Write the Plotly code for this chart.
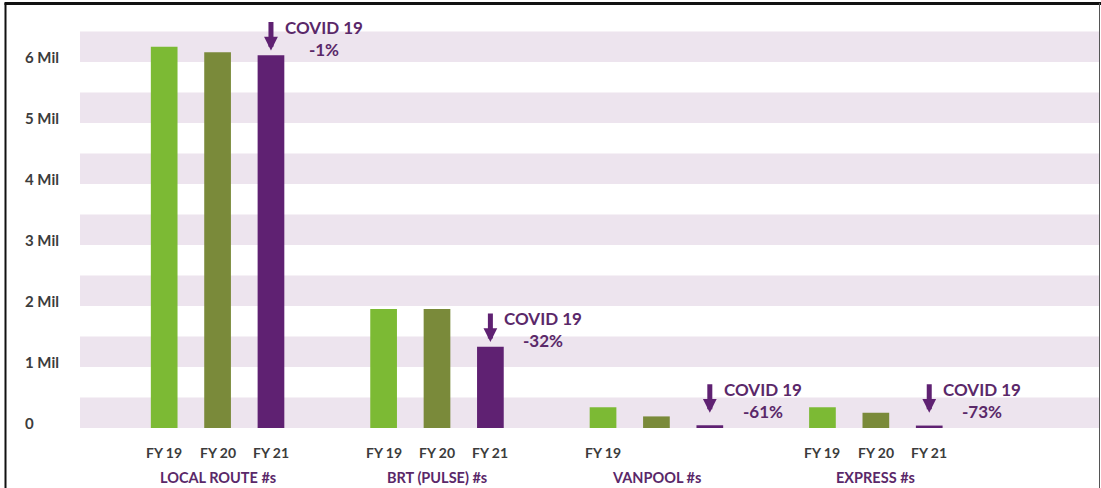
import plotly.graph_objects as go

# ---- data ----
groups = ["LOCAL ROUTE #s", "BRT (PULSE) #s", "VANPOOL #s", "EXPRESS #s"]
years = ["FY 19", "FY 20", "FY 21"]
fy19 = [6.25, 1.95, 0.34, 0.34]
fy20 = [6.16, 1.95, 0.19, 0.25]
fy21 = [6.11, 1.33, 0.045, 0.04]
covid_change = ["-1%", "-32%", "-61%", "-73%"]
shown_year_labels = [
    ["FY 19", "FY 20", "FY 21"],
    ["FY 19", "FY 20", "FY 21"],
    ["FY 19", "", ""],
    ["FY 19", "FY 20", "FY 21"],
]
y_ticks = [0, 1, 2, 3, 4, 5, 6]
y_tick_text = ["0", "1 Mil", "2 Mil", "3 Mil", "4 Mil", "5 Mil", "6 Mil"]

# ---- style ----
C19 = "#7cba34"
C20 = "#7a8a3a"
C21 = "#5f2172"
PURPLE_TXT = "#5a2869"
GRAY_TXT = "#3c3c3c"
STRIPE = "#ede4ee"
FONT = "Lato"

W, H = 1101, 488
ML, MR, MT, MB = 80, 2, 6, 60
PX_PER_UNIT_Y = 61.0
plot_h = H - MT - MB
plot_w = W - ML - MR
y_top = plot_h / PX_PER_UNIT_Y

BARGAP = 0.27
BARGROUPGAP = 0.50
slot = (1 - BARGAP) / 3
x_range = [-0.627, 4.017]

idx = list(range(len(groups)))

fig = go.Figure()
for vals, name, col in [(fy19, years[0], C19), (fy20, years[1], C20), (fy21, years[2], C21)]:
    fig.add_trace(go.Bar(x=idx, y=vals, name=name, marker=dict(color=col, line=dict(width=0))))

shapes = []
for k in y_ticks:
    shapes.append(dict(type="rect", xref="paper", yref="y", x0=0, x1=1, y0=k, y1=k + 0.5,
                       fillcolor=STRIPE, line=dict(width=0), layer="below"))
# image frame
fx = lambda px: (px - ML) / plot_w
fy = lambda py: (H - MB - py) / plot_h
shapes.append(dict(type="line", xref="paper", yref="paper", x0=fx(5.5), x1=fx(5.5), y0=fy(H), y1=fy(3),
                   line=dict(color="#111111", width=2)))
shapes.append(dict(type="line", xref="paper", yref="paper", x0=fx(4.5), x1=fx(W), y0=fy(3.5), y1=fy(3.5),
                   line=dict(color="#111111", width=3)))
shapes.append(dict(type="line", xref="paper", yref="paper", x0=fx(W - 1.5), x1=fx(W - 1.5), y0=fy(H), y1=fy(3),
                   line=dict(color="#555555", width=1)))

ann = []
# y tick labels (left-aligned)
for v, t in zip(y_ticks, y_tick_text):
    ann.append(dict(xref="paper", yref="y", x=fx(23), y=v, text=t, showarrow=False,
                    xanchor="left", yanchor="middle", yshift=5,
                    font=dict(family=FONT, size=15, color=GRAY_TXT, weight="bold")))
# year labels and group labels
for i, g in enumerate(groups):
    for j, lab in enumerate(shown_year_labels[i]):
        if lab:
            ann.append(dict(xref="x", yref="y", x=i + (j - 1) * slot, y=0, text=lab, showarrow=False,
                            xanchor="center", yanchor="middle", yshift=-24,
                            font=dict(family=FONT, size=14, color=GRAY_TXT, weight="bold")))
    ann.append(dict(xref="x", yref="y", x=i, y=0, text=g, showarrow=False,
                    xanchor="center", yanchor="middle", yshift=-49,
                    font=dict(family=FONT, size=14.5, color=PURPLE_TXT, weight="bold")))
# COVID arrows + text
for i in idx:
    bx = i + slot
    tip = max(fy21[i], 0.17) + 0.08
    ann.append(dict(xref="x", yref="y", x=bx, y=tip, text="", showarrow=True, ax=0, ay=-30,
                    arrowhead=2, arrowwidth=5, arrowsize=0.55, arrowcolor=C21))
    ann.append(dict(xref="x", yref="y", x=bx, y=tip, text="COVID 19<br>" + covid_change[i], showarrow=False,
                    xanchor="left", yanchor="middle", xshift=12, yshift=12, align="center",
                    font=dict(family=FONT, size=17, color=PURPLE_TXT, weight="bold")))

fig.update_layout(
    width=W, height=H,
    margin=dict(l=ML, r=MR, t=MT, b=MB),
    paper_bgcolor="white", plot_bgcolor="white",
    barmode="group", bargap=BARGAP, bargroupgap=BARGROUPGAP,
    showlegend=False,
    shapes=shapes, annotations=ann,
    xaxis=dict(range=x_range, showticklabels=False, showgrid=False, zeroline=False, showline=False, ticks=""),
    yaxis=dict(range=[0, y_top], showticklabels=False, showgrid=False, zeroline=False, showline=False, ticks=""),
)
fig.write_html("out.html")
